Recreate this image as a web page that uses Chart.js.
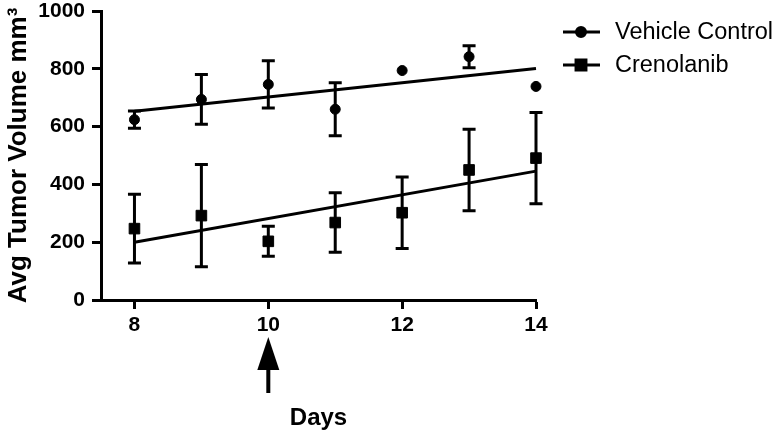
<!DOCTYPE html>
<html>
<head>
<meta charset="utf-8">
<script src="https://cdn.jsdelivr.net/npm/chart.js@4.4.0/dist/chart.umd.min.js"></script>
<style>
  html, body { margin: 0; padding: 0; background: #fff; }
  #wrap { width: 778px; height: 434px; }
</style>
</head>
<body>
<div id="wrap"><canvas id="chart" width="778" height="434"></canvas></div>
<script>
const days = [8, 9, 10, 11, 12, 13, 14];
const vehicleMean = [624, 694, 746, 660, 794, 842, 739];
const vehicleErr = [30, 86, 82, 92, 0, 38, 0];
const crenMean = [247, 292, 203, 268, 302, 450, 491];
const crenErr = [119, 177, 52, 103, 124, 141, 158];
const fitDays = [8, 14];
const vehicleFit = [653, 801];
const crenFit = [200, 446];
const xTicks = [8, 10, 12, 14];
const yTicks = [0, 200, 400, 600, 800, 1000];
const seriesNames = ["Vehicle Control", "Crenolanib"];
const treatmentDay = 10;

const FONT = "'Liberation Sans', Arial, Helvetica, sans-serif";
Chart.defaults.font.family = FONT;
Chart.defaults.color = "#000";

const toPts = (xs, ys) => xs.map((x, i) => ({ x, y: ys[i] }));

// vertical error bars with caps, drawn through the scales
const errorBars = {
  id: "errorBars",
  beforeDatasetsDraw(chart) {
    const { ctx, scales: { x, y } } = chart;
    ctx.save();
    ctx.strokeStyle = "#000";
    ctx.lineWidth = 3;
    chart.data.datasets.forEach((ds) => {
      if (!ds.errors) return;
      ds.data.forEach((p, i) => {
        const e = ds.errors[i];
        if (!e) return;
        const px = x.getPixelForValue(p.x);
        const top = y.getPixelForValue(p.y + e);
        const bot = y.getPixelForValue(p.y - e);
        ctx.beginPath();
        ctx.moveTo(px, top); ctx.lineTo(px, bot);
        ctx.moveTo(px - 6.5, top); ctx.lineTo(px + 6.5, top);
        ctx.moveTo(px - 6.5, bot); ctx.lineTo(px + 6.5, bot);
        ctx.stroke();
      });
    });
    ctx.restore();
  },
};

// arrow under the treatment day
const arrow = {
  id: "arrow",
  afterDraw(chart) {
    const { ctx, chartArea, scales: { x } } = chart;
    const px = x.getPixelForValue(treatmentDay);
    const b = chartArea.bottom;
    ctx.save();
    ctx.fillStyle = "#000";
    ctx.beginPath();
    ctx.moveTo(px, b + 37);
    ctx.lineTo(px + 11, b + 70);
    ctx.lineTo(px - 11, b + 70);
    ctx.closePath();
    ctx.fill();
    ctx.fillRect(px - 2, b + 69, 4, 24);
    ctx.restore();
  },
};

// legend on the right: line with marker, then name
const sideLegend = {
  id: "sideLegend",
  afterDraw(chart) {
    const { ctx } = chart;
    ctx.save();
    ctx.font = "23.5px " + FONT;
    ctx.textBaseline = "middle";
    ctx.fillStyle = "#000";
    ctx.strokeStyle = "#000";
    ctx.lineWidth = 3;
    seriesNames.forEach((name, i) => {
      const ds = chart.data.datasets[i];
      const yy = 32 + i * 33;
      ctx.beginPath();
      ctx.moveTo(563, yy); ctx.lineTo(600, yy);
      ctx.stroke();
      Chart.helpers.drawPoint(ctx, { pointStyle: ds.pointStyle, radius: ds.pointRadius - 0.5, borderWidth: 1 }, 581, yy);
      ctx.fill();
      ctx.fillText(name, 615, yy + 1);
    });
    ctx.restore();
  },
};

new Chart(document.getElementById("chart"), {
  type: "scatter",
  data: {
    datasets: [
      {
        label: seriesNames[0],
        data: toPts(days, vehicleMean),
        errors: vehicleErr,
        pointStyle: "circle",
        pointRadius: 5,
        backgroundColor: "#000",
        borderColor: "#000",
        pointBorderWidth: 1,
        clip: false,
      },
      {
        label: seriesNames[1],
        data: toPts(days, crenMean),
        errors: crenErr,
        pointStyle: "rect",
        pointRadius: 7.5,
        backgroundColor: "#000",
        borderColor: "#000",
        pointBorderWidth: 1,
        clip: false,
      },
      {
        label: seriesNames[0] + " fit",
        data: toPts(fitDays, vehicleFit),
        showLine: true,
        pointRadius: 0,
        borderColor: "#000",
        borderWidth: 3,
        clip: false,
      },
      {
        label: seriesNames[1] + " fit",
        data: toPts(fitDays, crenFit),
        showLine: true,
        pointRadius: 0,
        borderColor: "#000",
        borderWidth: 3,
        clip: false,
      },
    ],
  },
  options: {
    responsive: false,
    animation: false,
    devicePixelRatio: 1,
    layout: { autoPadding: false, padding: { left: 0, top: 11, right: 242, bottom: 0 } },
    plugins: { legend: { display: false }, tooltip: { enabled: false } },
    scales: {
      x: {
        type: "linear",
        min: 7.5,
        max: 14,
        afterBuildTicks: (s) => { s.ticks = xTicks.map((v) => ({ value: v })); },
        afterFit: (s) => { s.height = 134; s.paddingLeft = 0; s.paddingRight = 0; },
        border: { display: true, color: "#000", width: 3 },
        grid: { drawOnChartArea: false, drawTicks: true, tickLength: 9, tickWidth: 3, tickColor: "#000" },
        ticks: { color: "#000", font: { size: 21, weight: "bold" }, padding: 4, maxRotation: 0, autoSkip: false, callback: (v) => String(v) },
        title: { display: true, text: "Days", color: "#000", font: { size: 24, weight: "bold" }, padding: { top: 0, bottom: 1 } },
      },
      y: {
        type: "linear",
        min: 0,
        max: 1000,
        afterBuildTicks: (s) => { s.ticks = yTicks.map((v) => ({ value: v })); },
        afterFit: (s) => { s.width = 101; s.paddingTop = 0; s.paddingBottom = 0; },
        border: { display: true, color: "#000", width: 3 },
        grid: { drawOnChartArea: false, drawTicks: true, tickLength: 9, tickWidth: 3, tickColor: "#000" },
        ticks: { color: "#000", font: { size: 21, weight: "bold" }, padding: 7, autoSkip: false, callback: (v) => String(v) },
        title: { display: true, text: "Avg Tumor Volume mm³", color: "#000", font: { size: 26, weight: "bold" }, padding: { top: 3, bottom: 0 } },
      },
    },
  },
  plugins: [errorBars, arrow, sideLegend],
});
</script>
</body>
</html>
